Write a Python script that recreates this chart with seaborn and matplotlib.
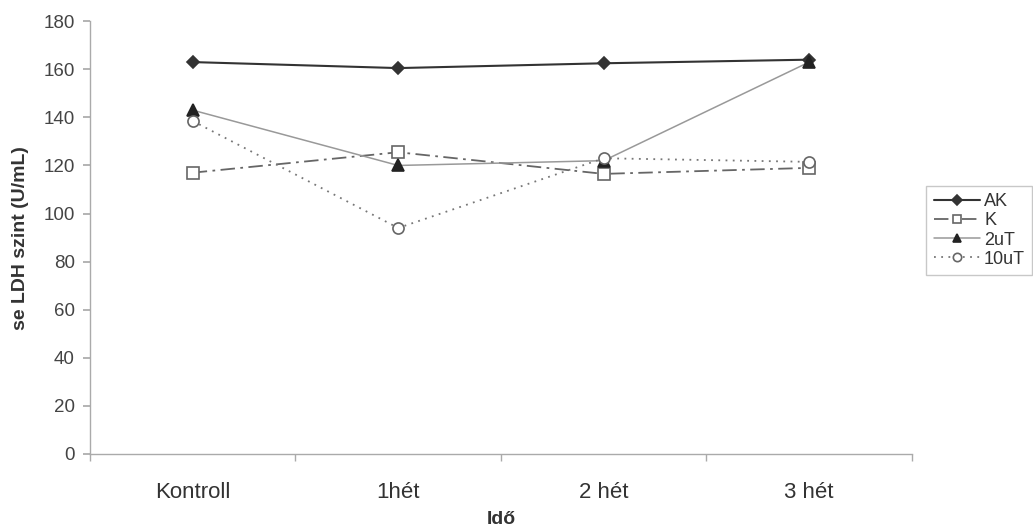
import matplotlib
matplotlib.use("Agg")
import matplotlib.pyplot as plt
import seaborn as sns
import pandas as pd
from matplotlib.ticker import FixedLocator

# adatok (leolvasva)
ido = ["Kontroll", "1hét", "2 hét", "3 hét"]
ak = [163, 160.5, 162.5, 164]
k = [117, 125.5, 116.5, 119]
uT2 = [143, 120, 122, 163]
uT10 = [138.5, 94, 123, 121.5]

sns.set_theme(style="white")
plt.rcParams['font.family'] = ['Liberation Sans', 'DejaVu Sans']

df = pd.DataFrame({
    "ido": ido * 4,
    "ertek": ak + k + uT2 + uT10,
    "csoport": ["AK"] * 4 + ["K"] * 4 + ["2uT"] * 4 + ["10uT"] * 4,
})

styles = {
    "AK": dict(color="#333333", lw=1.5, ls="-", marker="D", ms=6.5,
               mfc="#333333", mec="#333333"),
    "K": dict(color="#666666", lw=1.3, ls=(0, (8, 3, 1.5, 3)), marker="s", ms=8.5,
              mfc="white", mec="#666666"),
    "2uT": dict(color="#999999", lw=1.1, ls="-", marker="^", ms=8.5,
                mfc="#222222", mec="#222222"),
    "10uT": dict(color="#777777", lw=1.3, ls=(0, (1, 3)), marker="o", ms=8,
                 mfc="white", mec="#666666"),
}

fig = plt.figure(figsize=(10.33, 5.30), dpi=100)
ax = fig.add_axes([0.0871, 0.1434, 0.7957, 0.8166])

for nev in ["AK", "K", "2uT", "10uT"]:
    st = styles[nev]
    sub = df[df["csoport"] == nev]
    sns.lineplot(data=sub, x="ido", y="ertek", ax=ax, label=nev,
                 color=st["color"], linewidth=st["lw"], linestyle=st["ls"],
                 marker=st["marker"], markersize=st["ms"],
                 markerfacecolor=st["mfc"], markeredgecolor=st["mec"],
                 markeredgewidth=1.2)

ax.set_xlim(-0.5, 3.5)
ax.set_ylim(0, 180)
ax.set_yticks(range(0, 181, 20))

for s in ["top", "right"]:
    ax.spines[s].set_visible(False)
for s in ["left", "bottom"]:
    ax.spines[s].set_color("#aaaaaa")
    ax.spines[s].set_linewidth(1.0)

ax.xaxis.set_minor_locator(FixedLocator([-0.5, 0.5, 1.5, 2.5, 3.5]))
ax.tick_params(axis="x", which="major", length=0, labelsize=16,
               labelcolor="#333333", pad=20)
ax.tick_params(axis="x", which="minor", bottom=True, length=5,
               color="#aaaaaa", width=1)
ax.tick_params(axis="y", left=True, length=5, color="#aaaaaa",
               labelsize=13.5, labelcolor="#444444", pad=6)

ax.set_xlabel("Idő", fontsize=14, fontweight="bold", color="#333333",
              labelpad=6)
ax.set_ylabel("se LDH szint (U/mL)", fontsize=14, fontweight="bold",
              color="#333333", labelpad=10)

leg = ax.legend(loc="center left", bbox_to_anchor=(0.888, 0.565),
                bbox_transform=fig.transFigure, fontsize=13, frameon=True,
                fancybox=False, edgecolor="#bbbbbb", handlelength=2.6,
                handletextpad=0.2, borderpad=0.4, labelspacing=0.12,
                markerscale=0.75)
for t in leg.get_texts():
    t.set_color("#333333")

fig.savefig("out.png", dpi=100)
